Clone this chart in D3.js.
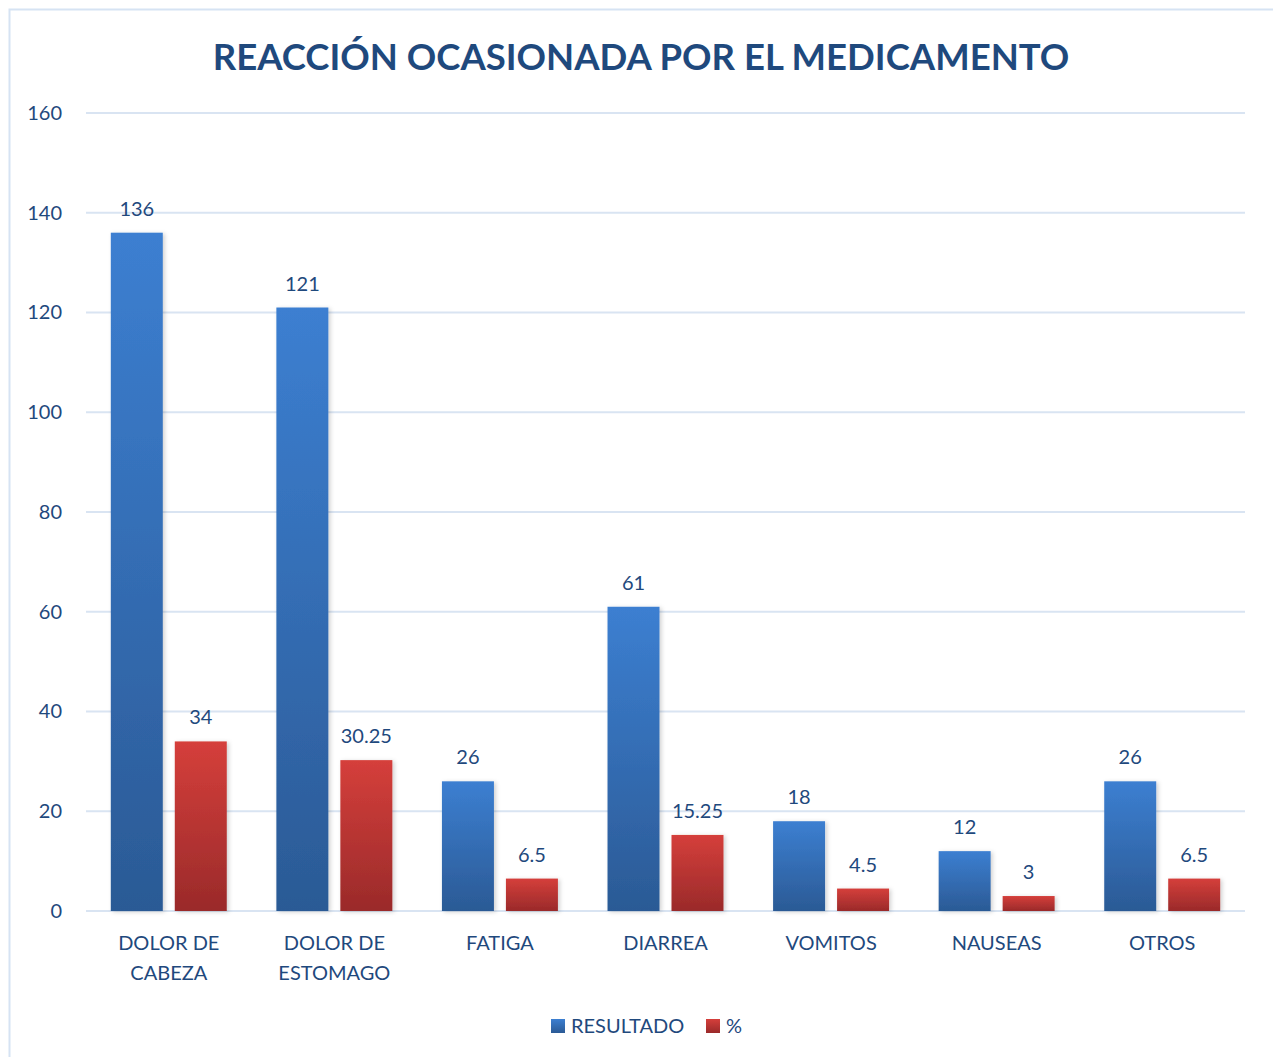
<!DOCTYPE html>
<html><head><meta charset="utf-8">
<script src="https://cdn.jsdelivr.net/npm/d3@7"></script>
<style>body{margin:0;background:#fff}svg{display:block}text{font-family:Lato,"Open Sans",sans-serif}</style>
</head><body><svg id="c" width="1273" height="1057"></svg>
<script>
const title = "REACCIÓN OCASIONADA POR EL MEDICAMENTO";
const categories = [["DOLOR DE","CABEZA"],["DOLOR DE","ESTOMAGO"],["FATIGA"],["DIARREA"],["VOMITOS"],["NAUSEAS"],["OTROS"]];
const resultado = [136,121,26,61,18,12,26];
const porcentaje = [34,30.25,6.5,15.25,4.5,3,6.5];
const seriesNames = ["RESULTADO","%"];
const yTicks = [0,20,40,60,80,100,120,140,160];

const txt = "#1F497D";
const svg = d3.select("#c");
const defs = svg.append("defs");
function grad(id, top, bot){
  const g = defs.append("linearGradient").attr("id",id).attr("x1",0).attr("y1",0).attr("x2",0).attr("y2",1);
  g.append("stop").attr("offset","0%").attr("stop-color",top);
  g.append("stop").attr("offset","100%").attr("stop-color",bot);
}
grad("gb","#3C7FD1","#2B5A95");
grad("gr","#D53F3B","#9A2A2A");
const f = defs.append("filter").attr("id","sh").attr("x","-20%").attr("y","-20%").attr("width","140%").attr("height","140%");
f.append("feDropShadow").attr("dx",2).attr("dy",1).attr("stdDeviation",2).attr("flood-color","#000").attr("flood-opacity",0.18);

svg.append("rect").attr("x",9.5).attr("y",9.5).attr("width",1300).attr("height",1100)
  .attr("fill","#fff").attr("stroke","#D6E3F3").attr("stroke-width",2);

const L=86,R=1245,T=113,B=911;
const y = d3.scaleLinear().domain([0,160]).range([B,T]);
const x0 = d3.scaleBand().domain(d3.range(categories.length)).range([L,R]).paddingInner(0).paddingOuter(0);
const x1 = d3.scaleBand().domain([0,1]).range([24.8, x0.bandwidth()-24.8]).paddingInner(12/64);

// gridlines
svg.append("g").selectAll("line").data(yTicks).join("line")
  .attr("x1",L).attr("x2",R).attr("y1",d=>y(d)).attr("y2",d=>y(d))
  .attr("stroke","#D9E4F2").attr("stroke-width",2);

// y axis labels
const yAxis = d3.axisLeft(y).tickValues(yTicks).tickSize(0).tickPadding(0);
const ya = svg.append("g").attr("transform",`translate(62,0)`).call(yAxis);
ya.select(".domain").remove();
ya.selectAll("text").attr("fill",txt).style("font-size","20px").style("font-family","Lato");

const data = [resultado, porcentaje];
const fills = ["url(#gb)","url(#gr)"];
categories.forEach((c,i)=>{
  const g = svg.append("g").attr("transform",`translate(${x0(i)},0)`);
  data.forEach((s,k)=>{
    const v = s[i];
    g.append("rect").attr("x",x1(k)).attr("width",x1.bandwidth())
      .attr("y",y(v)).attr("height",B-y(v)).attr("fill",fills[k]).attr("filter","url(#sh)");
    g.append("text").attr("x",x1(k)+x1.bandwidth()/2).attr("y",y(v)-17)
      .attr("text-anchor","middle").attr("fill",txt).style("font-size","20px").text(v);
  });
  c.forEach((line,j)=>{
    g.append("text").attr("x",x0.bandwidth()/2).attr("y",950+j*30).attr("text-anchor","middle")
      .attr("fill",txt).style("font-size","20px").text(line);
  });
});

// title
const t = svg.append("text").attr("x",641).attr("y",70).attr("text-anchor","middle")
  .attr("fill","#1F497D").style("font-size","38px").style("font-weight","bold").text(title);
const w = t.node().getComputedTextLength();
t.style("font-size", (38*857/w)+"px");

// legend
const leg = svg.append("g");
const lx = [551,706];
seriesNames.forEach((n,k)=>{
  leg.append("rect").attr("x",lx[k]).attr("y",1019).attr("width",14).attr("height",14).attr("fill",fills[k]);
  leg.append("text").attr("x",lx[k]+20).attr("y",1033).attr("fill",txt).style("font-size","20px").text(n);
});
</script></body></html>
